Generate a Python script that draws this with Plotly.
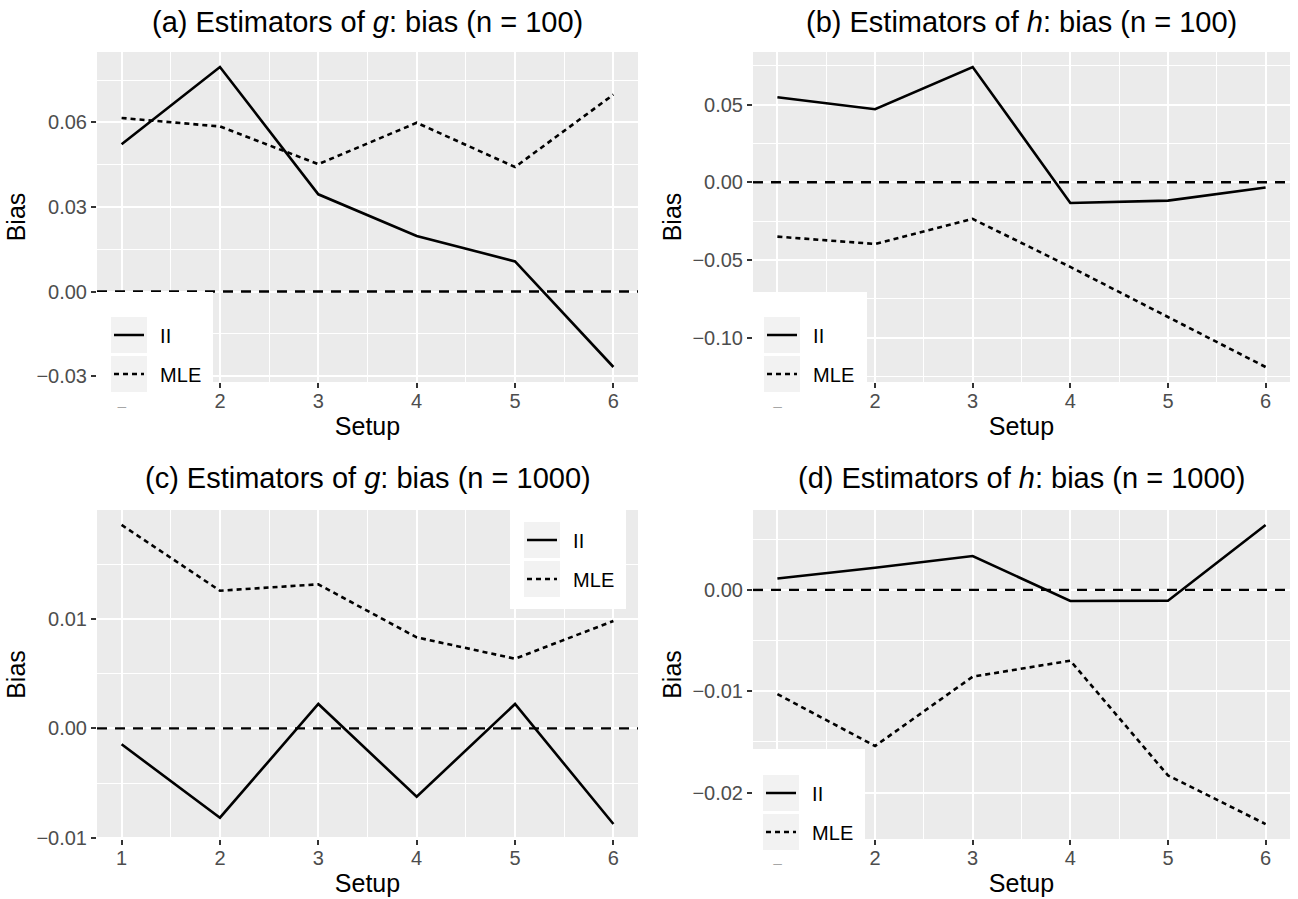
import plotly.graph_objects as go

# Setups on the x axis
setups = [1, 2, 3, 4, 5, 6]

# Bias of the estimators, n = 100
g100_ii = [0.0523, 0.0797, 0.0345, 0.0197, 0.0107, -0.0268]
g100_mle = [0.0616, 0.0586, 0.0452, 0.0599, 0.0442, 0.0699]
h100_ii = [0.0547, 0.0470, 0.0742, -0.0133, -0.0118, -0.0034]
h100_mle = [-0.0350, -0.0397, -0.0236, -0.0545, -0.0867, -0.1189]

# Bias of the estimators, n = 1000
g1000_ii = [-0.00146, -0.00817, 0.00223, -0.00625, 0.00223, -0.00875]
g1000_mle = [0.0186, 0.01259, 0.01317, 0.00832, 0.00637, 0.00982]
h1000_ii = [0.00112, 0.00218, 0.00334, -0.00109, -0.00106, 0.00641]
h1000_mle = [-0.01028, -0.0154, -0.00856, -0.00698, -0.0183, -0.0231]

titles = [
    "(a) Estimators of <i>g</i>: bias (n = 100)",
    "(b) Estimators of <i>h</i>: bias (n = 100)",
    "(c) Estimators of <i>g</i>: bias (n = 1000)",
    "(d) Estimators of <i>h</i>: bias (n = 1000)",
]
y_major = [
    [-0.03, 0.00, 0.03, 0.06],
    [-0.10, -0.05, 0.00, 0.05],
    [-0.01, 0.00, 0.01],
    [-0.02, -0.01, 0.00],
]
y_minor = [
    [-0.015, 0.015, 0.045, 0.075],
    [-0.125, -0.075, -0.025, 0.025, 0.075],
    [-0.005, 0.005, 0.015],
    [-0.015, -0.005, 0.005],
]
series_names = ["II", "MLE"]

panels = [
    (g100_ii, g100_mle),
    (h100_ii, h100_mle),
    (g1000_ii, g1000_mle),
    (h1000_ii, h1000_mle),
]

W, H = 1298, 899
FONT = "Liberation Sans, Arial, sans-serif"
GAP = "\u00a0\u00a0"  # space between legend key and its label

# Panel rectangles in pixels: (left, right, top, bottom)
boxes = [
    (97, 638, 52, 382),
    (753, 1290, 52, 382),
    (97, 638, 510, 839),
    (753, 1290, 510, 839),
]
# Legend boxes (white) and key rectangles, in pixels
legend_boxes = [
    (97, 213, 292, 407.5, 111, 317),
    (753, 867, 292, 407.5, 764, 317),
    (510, 626, 497, 609, 524, 522),
    (753, 865, 749, 864.5, 763, 775),
]


def px(x):
    return x / W


def py(y):
    return 1 - y / H


fig = go.Figure()
layout = dict(
    width=W, height=H,
    margin=dict(l=0, r=0, t=0, b=0),
    paper_bgcolor="white",
    plot_bgcolor="#EBEBEB",
    font=dict(family=FONT, color="black"),
    showlegend=True,
    shapes=[], annotations=[],
)

for i, ((ii, mle), (l, r, t, b)) in enumerate(zip(panels, boxes)):
    sfx = "" if i == 0 else str(i + 1)
    xa, ya = "x" + sfx, "y" + sfx
    leg = "legend" + sfx
    lo = min(ii + mle + [0.0])
    hi = max(ii + mle + [0.0])
    pad = 0.05 * (hi - lo)

    layout["xaxis" + sfx] = dict(
        domain=[px(l), px(r)], anchor=ya, range=[0.75, 6.25],
        tickvals=setups, ticktext=[str(s) for s in setups],
        ticks="outside", ticklen=5, tickwidth=2, tickcolor="#333333",
        ticklabelstandoff=-4,
        tickfont=dict(size=20, color="#4D4D4D", family=FONT),
        showgrid=True, gridcolor="white", gridwidth=2.2,
        minor=dict(tickvals=[1.5, 2.5, 3.5, 4.5, 5.5], showgrid=True,
                   gridcolor="white", gridwidth=1.1),
        zeroline=False, showline=False, automargin=False,
        title=dict(text="Setup", font=dict(size=25, color="black", family=FONT),
                   standoff=6),
    )
    layout["yaxis" + sfx] = dict(
        domain=[py(b), py(t)], anchor=xa, range=[lo - pad, hi + pad],
        tickvals=y_major[i], tickformat=".2f",
        ticks="outside", ticklen=5, tickwidth=2, tickcolor="#333333",
        tickfont=dict(size=20, color="#4D4D4D", family=FONT),
        showgrid=True, gridcolor="white", gridwidth=2.2,
        minor=dict(tickvals=y_minor[i], showgrid=True,
                   gridcolor="white", gridwidth=1.1),
        zeroline=False, showline=False, automargin=False,
        title=dict(text="Bias", font=dict(size=25, color="black", family=FONT),
                   standoff=3),
    )

    # Reference line at zero bias
    fig.add_trace(go.Scatter(
        x=[0.75, 6.25], y=[0, 0], mode="lines", xaxis=xa, yaxis=ya,
        line=dict(color="black", width=2.4, dash="10px,8px"),
        showlegend=False, hoverinfo="skip"))

    for name, vals, dash in zip(series_names, (ii, mle), ("solid", "5px,4px")):
        fig.add_trace(go.Scatter(
            x=setups, y=vals, mode="lines", name=GAP + name,
            xaxis=xa, yaxis=ya, legend=leg,
            legendgroup=f"{name}{i}",
            line=dict(color="black", width=2.6, dash=dash),
        ))

    # Legend background and key tiles
    bl, br, bt, bb, kx, ky = legend_boxes[i]
    layout["shapes"].append(dict(
        type="rect", xref="paper", yref="paper", layer="above",
        x0=px(bl), x1=px(br), y0=py(bb), y1=py(bt),
        fillcolor="white", line=dict(width=0)))
    for k in range(2):
        layout["shapes"].append(dict(
            type="rect", xref="paper", yref="paper", layer="above",
            x0=px(kx), x1=px(kx + 36), y0=py(ky + 39 * k + 36), y1=py(ky + 39 * k),
            fillcolor="#F2F2F2", line=dict(width=0)))

    layout[leg] = dict(
        x=px(kx - 2), y=py(ky + 18 - 19.5), xanchor="left", yanchor="top",
        xref="paper", yref="paper",
        bgcolor="rgba(0,0,0,0)", borderwidth=0,
        font=dict(size=20, color="black", family=FONT),
        tracegroupgap=10, itemclick=False, itemdoubleclick=False,
    )

    # Panel title
    title_y = 22 if i < 2 else 478
    layout["annotations"].append(dict(
        text=titles[i], xref="paper", yref="paper",
        x=px((l + r) / 2), y=py(title_y), xanchor="center", yanchor="middle",
        showarrow=False, font=dict(size=29, color="black", family=FONT)))

fig.update_layout(**layout)
fig.write_html("out.html")
